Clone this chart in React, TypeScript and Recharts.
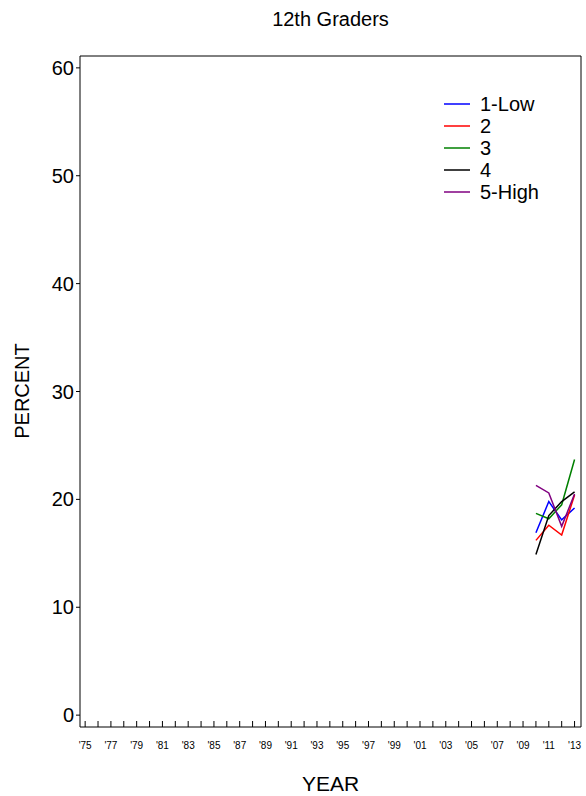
import { Line, LineChart, ReferenceLine, XAxis, YAxis } from "recharts";

// survey years and the percent for each quintile
const years = [2010, 2011, 2012, 2013];
const low = [16.9, 19.8, 18.1, 19.2];
const q2 = [16.2, 17.6, 16.7, 20.4];
const q3 = [18.7, 18.2, 19.5, 23.7];
const q4 = [14.9, 18.5, 19.8, 20.7];
const high = [21.3, 20.6, 17.5, 20.5];

const yTicks = [0, 10, 20, 30, 40, 50, 60];
const xTicks = [
  1975, 1976, 1977, 1978, 1979, 1980, 1981, 1982, 1983, 1984, 1985, 1986, 1987,
  1988, 1989, 1990, 1991, 1992, 1993, 1994, 1995, 1996, 1997, 1998, 1999, 2000,
  2001, 2002, 2003, 2004, 2005, 2006, 2007, 2008, 2009, 2010, 2011, 2012, 2013,
];

const series = [
  { key: "low", name: "1-Low", color: "#0000ff", values: low },
  { key: "q2", name: "2", color: "#ff0000", values: q2 },
  { key: "q3", name: "3", color: "#008000", values: q3 },
  { key: "q4", name: "4", color: "#000000", values: q4 },
  { key: "high", name: "5-High", color: "#800080", values: high },
];

const data = years.map((year, i) => {
  const row: Record<string, number> = { year };
  series.forEach((s) => (row[s.key] = s.values[i]));
  return row;
});

const X_DOMAIN: [number, number] = [1974.6, 2013.5];
const Y_DOMAIN: [number, number] = [-1.1, 61.1];
const FONT = "'Liberation Sans', Arial, sans-serif";

function YearTick(props: any) {
  const { x, y, payload } = props;
  const showLabel = payload.value % 2 === 1;
  return (
    <g>
      <line x1={x} x2={x} y1={y} y2={y - 6} stroke="#000" strokeWidth={1} />
      {showLabel && (
        <text
          x={x}
          y={y + 18}
          textAnchor="middle"
          dominantBaseline="central"
          fontSize={10}
          fontFamily={FONT}
          fill="#000"
        >
          {"'" + String(payload.value).slice(2)}
        </text>
      )}
    </g>
  );
}

export default function App() {
  return (
    <div style={{ position: "absolute", left: 0, top: 0, width: 586, height: 796, background: "#fff", fontFamily: FONT }}>
      <div style={{ position: "absolute", left: 80, width: 501, top: 8, textAlign: "center", fontSize: 20 }}>
        12th Graders
      </div>
      <div
        style={{
          position: "absolute",
          left: 22,
          top: 391,
          transform: "translate(-50%, -50%) rotate(-90deg)",
          fontSize: 20,
          whiteSpace: "nowrap",
        }}
      >
        PERCENT
      </div>
      <div style={{ position: "absolute", left: 80, width: 501, top: 772, textAlign: "center", fontSize: 21 }}>
        YEAR
      </div>
      {/* legend */}
      <div style={{ position: "absolute", left: 444, top: 93, fontSize: 20, color: "#000" }}>
        {series.map((s) => (
          <div key={s.key} style={{ display: "flex", alignItems: "center", height: 22 }}>
            <svg width={26} height={4} style={{ marginRight: 10, display: "block" }}>
              <line x1={0} x2={26} y1={2} y2={2} stroke={s.color} strokeWidth={1.5} />
            </svg>
            <span style={{ lineHeight: "22px" }}>{s.name}</span>
          </div>
        ))}
      </div>
      <LineChart width={586} height={796} data={data} margin={{ top: 56, right: 5, bottom: 0, left: 30 }}>
        <XAxis
          dataKey="year"
          type="number"
          domain={X_DOMAIN}
          ticks={xTicks}
          interval={0}
          tickSize={0}
          tickMargin={0}
          tickLine={false}
          tick={<YearTick />}
          height={69}
          stroke="#000"
          allowDataOverflow
        />
        <YAxis
          type="number"
          domain={Y_DOMAIN}
          ticks={yTicks}
          interval={0}
          width={50}
          tickSize={4}
          tickMargin={2}
          stroke="#000"
          tick={{ fill: "#000", fontSize: 20, fontFamily: FONT }}
          allowDataOverflow
        />
        <ReferenceLine y={Y_DOMAIN[1]} stroke="#000" ifOverflow="extendDomain" />
        <ReferenceLine x={X_DOMAIN[1]} stroke="#000" ifOverflow="extendDomain" />
        {series.map((s) => (
          <Line
            key={s.key}
            dataKey={s.key}
            name={s.name}
            stroke={s.color}
            strokeWidth={1.5}
            dot={false}
            type="linear"
            isAnimationActive={false}
          />
        ))}
      </LineChart>
    </div>
  );
}
